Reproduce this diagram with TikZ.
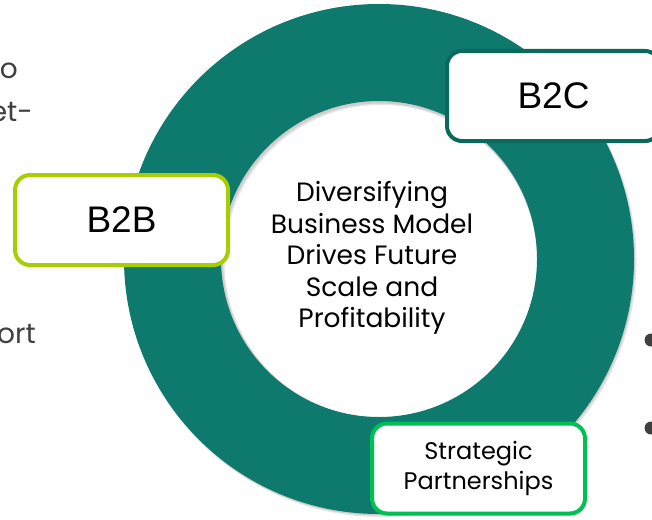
\documentclass[tikz,border=0pt]{standalone}
\usepackage{fontspec}
\setmainfont{Poppins}
\newfontfamily\tagfont{Liberation Sans}
\usetikzlibrary{shadows}

\definecolor{ringteal}{RGB}{14,122,110}
\definecolor{tealedge}{RGB}{10,104,93}
\definecolor{limeedge}{RGB}{166,206,0}
\definecolor{greenedge}{RGB}{0,192,84}
\definecolor{bodygray}{RGB}{64,64,64}

\tikzset{
  tagbox/.style={draw, line width=4pt, rounded corners=15pt, fill=white,
    minimum width=213pt, minimum height=90pt, inner sep=0pt, align=center,
    drop shadow={shadow xshift=1.5pt, shadow yshift=-2pt, opacity=.22}},
  bigtag/.style={tagbox, font=\tagfont\fontsize{37}{40}\selectfont},
  smalltag/.style={tagbox, font=\fontsize{24}{30}\selectfont},
  bodytext/.style={text=bodygray, inner sep=0pt, anchor=base east,
    font=\fontsize{28}{34}\selectfont},
  bulletdot/.style={circle, fill=bodygray, inner sep=0pt, minimum size=13pt}
}

\begin{document}
\begin{tikzpicture}[x=1pt, y=-1pt]
  \useasboundingbox (0,0) rectangle (652,519);
  \fill[white] (0,0) rectangle (652,519);

  % fragments of neighbouring text running in from the slide edges
  \node[bodytext] (frag1) at (18,78) {o};
  \node[bodytext] (frag2) at (33,121) {et-};
  \node[bodytext] (frag3) at (36,343) {ort};
  \node[bulletdot] (dot1) at (651,340) {};
  \node[bulletdot] (dot2) at (651,428) {};

  % ring with a soft shadow
  \fill[black, opacity=.10, even odd rule]
    (381,261.5) circle[radius=255.5] (381,261.5) circle[radius=156.5];
  \fill[black, opacity=.10, even odd rule]
    (380,260.5) circle[radius=255] (380,260.5) circle[radius=157];
  \fill[ringteal, even odd rule]
    (379,259) circle[radius=255] (379,259) circle[radius=158];

  % centre statement
  \node[align=center, inner sep=0pt, font=\fontsize{26.5}{31.5}\selectfont]
    (core) at (372,258)
    {Diversifying\\Business Model\\Drives Future\\Scale and\\Profitability};

  % model labels around the ring
  \node[bigtag, draw=tealedge] (b2c) at (553.5,96) {B2C};
  \node[bigtag, draw=limeedge] (b2b) at (121.5,220) {B2B};
  \node[smalltag, draw=greenedge] (partners) at (478.5,468.5)
    {Strategic\\Partnerships};
\end{tikzpicture}
\end{document}
